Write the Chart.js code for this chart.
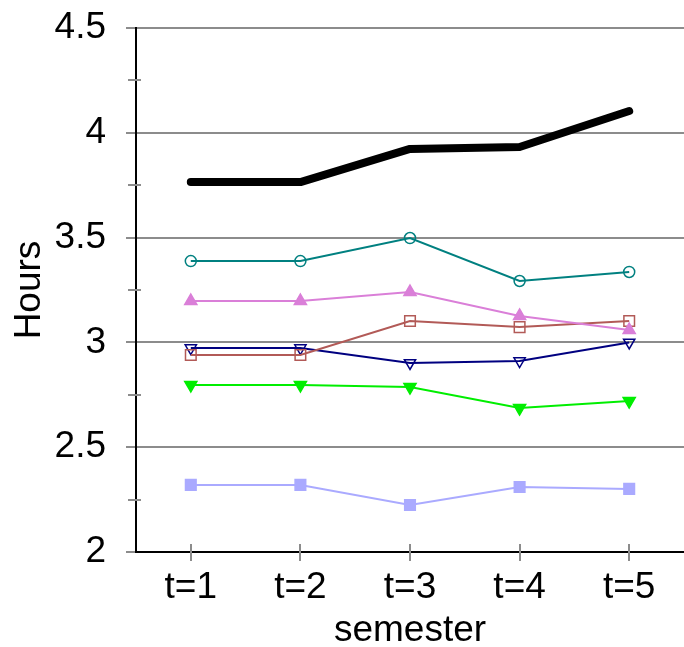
<!DOCTYPE html>
<html>
<head>
<meta charset="utf-8">
<script src="https://cdn.jsdelivr.net/npm/chart.js@4/dist/chart.umd.min.js"></script>
<style>
  html, body { margin: 0; padding: 0; background: #fff; }
  #wrap { width: 684px; height: 647px; }
</style>
</head>
<body>
<div id="wrap"><canvas id="c" width="684" height="647"></canvas></div>
<script>
const semesters = ["t=1", "t=2", "t=3", "t=4", "t=5"];

const blackLine = [3.765, 3.765, 3.923, 3.932, 4.104];
const tealLine = [3.388, 3.388, 3.498, 3.293, 3.336];
const violetLine = [3.197, 3.197, 3.240, 3.126, 3.059];
const brownLine = [2.940, 2.940, 3.102, 3.073, 3.102];
const navyLine = [2.973, 2.973, 2.902, 2.911, 3.000];
const greenLine = [2.797, 2.797, 2.787, 2.687, 2.720];
const lightBlueLine = [2.320, 2.320, 2.224, 2.310, 2.301];

const yMin = 2, yMax = 4.5;
const FONT = { family: "Liberation Sans", size: 37 };

// plot area runs to the right edge of the canvas
const fillRight = {
  id: "fillRight",
  afterLayout(chart) {
    const ca = chart.chartArea;
    ca.right = chart.width;
    ca.width = ca.right - ca.left;
    const x = chart.scales.x;
    x.right = chart.width;
    x.width = x.right - x.left;
    x.configure();
  }
};

// tick marks that cross the axis lines (minor y ticks and x ticks)
const crossTicks = {
  id: "crossTicks",
  afterDraw(chart) {
    const ctx = chart.ctx;
    const x = chart.scales.x, y = chart.scales.y;
    ctx.save();
    ctx.strokeStyle = "#8c8c8c";
    ctx.lineWidth = 2;
    for (let v = yMin + 0.25; v < yMax; v += 0.5) {
      const py = Math.round(y.getPixelForValue(v));
      ctx.beginPath();
      ctx.moveTo(x.left - 8, py);
      ctx.lineTo(x.left + 5, py);
      ctx.stroke();
    }
    semesters.forEach((s, i) => {
      const px = Math.round(x.getPixelForValue(i));
      ctx.beginPath();
      ctx.moveTo(px, y.bottom - 8);
      ctx.lineTo(px, y.bottom + 9);
      ctx.stroke();
    });
    ctx.restore();
  }
};

const isMajor = (v) => Math.abs(v * 2 - Math.round(v * 2)) < 1e-6;

const ds = (data, color, style, opts) => Object.assign({
  data: data,
  borderColor: color,
  backgroundColor: color,
  borderWidth: 2,
  pointStyle: style,
  pointRadius: 5,
  pointBorderWidth: 1.5,
  pointBorderColor: color,
  pointBackgroundColor: color,
  tension: 0
}, opts || {});

new Chart(document.getElementById("c"), {
  type: "line",
  data: {
    labels: semesters,
    datasets: [
      ds(blackLine, "#000000", false, { borderWidth: 8, pointRadius: 0, borderCapStyle: "round", borderJoinStyle: "round" }),
      ds(tealLine, "#008080", "circle", { pointRadius: 5.5, pointBackgroundColor: "rgba(255,255,255,0)" }),
      ds(violetLine, "#da7fd8", "triangle", { pointRadius: 7 }),
      ds(brownLine, "#b25a57", "rect", { pointRadius: 7.5, pointBackgroundColor: "rgba(255,255,255,0)" }),
      ds(navyLine, "#000080", "triangle", { pointRadius: 6.5, pointRotation: 180, pointBackgroundColor: "rgba(255,255,255,0)" }),
      ds(greenLine, "#00ee00", "triangle", { pointRotation: 180, pointRadius: 7 }),
      ds(lightBlueLine, "#aaaaff", "rect", { pointRadius: 7.5 })
    ]
  },
  options: {
    responsive: false,
    animation: false,
    layout: { padding: { top: 28, right: 0, left: 0, bottom: 0 } },
    plugins: { legend: { display: false }, tooltip: { enabled: false } },
    scales: {
      x: {
        offset: true,
        grid: { display: true, drawOnChartArea: false, drawTicks: false },
        border: { display: true, color: "#000", width: 2 },
        ticks: { color: "#000", padding: 14, font: FONT },
        title: { display: true, text: "semester", color: "#000", padding: { top: 0, bottom: -6 }, font: FONT },
        afterFit(scale) { scale.height = 95; scale.paddingLeft = 0; scale.paddingRight = 0; }
      },
      y: {
        min: yMin,
        max: yMax,
        grid: {
          color: (c) => (isMajor(c.tick.value) && c.tick.value > yMin) ? "#8c8c8c" : "rgba(0,0,0,0)",
          tickColor: (c) => isMajor(c.tick.value) ? "#8c8c8c" : "rgba(0,0,0,0)",
          lineWidth: 2,
          tickLength: 10
        },
        border: { display: true, color: "#000", width: 2 },
        ticks: {
          stepSize: 0.25,
          autoSkip: false,
          color: "#000",
          padding: 20,
          font: FONT,
          callback: (v) => isMajor(v) ? String(v) : ""
        },
        title: { display: true, text: "Hours", color: "#000", padding: { top: 8, bottom: 0 }, font: FONT },
        afterFit(scale) { scale.width = 136; scale.paddingTop = 0; scale.paddingBottom = 0; }
      }
    }
  },
  plugins: [fillRight, crossTicks]
});
</script>
</body>
</html>
